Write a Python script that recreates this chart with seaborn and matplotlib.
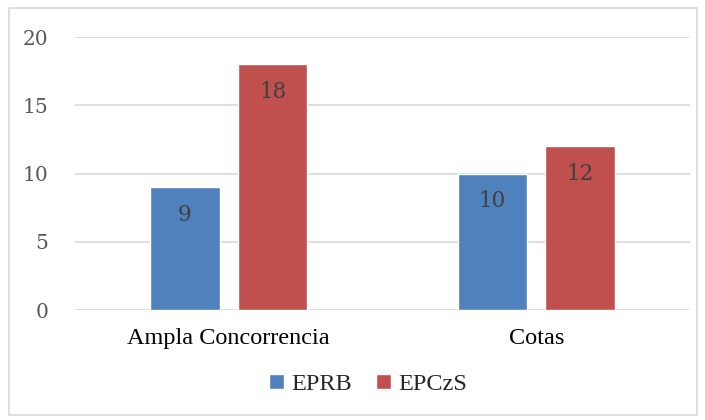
import pandas as pd
import matplotlib.pyplot as plt
import seaborn as sns
from matplotlib.patches import Rectangle

# --- data ---
categories = ["Ampla Concorrencia", "Cotas"]
series = ["EPRB", "EPCzS"]
eprb_values = [9, 10]
epczs_values = [18, 12]
y_ticks = [0, 5, 10, 15, 20]

COLORS = ["#4F81BD", "#C0504D"]

df = pd.DataFrame({
    "categoria": categories * 2,
    "serie": [series[0]] * len(categories) + [series[1]] * len(categories),
    "valor": eprb_values + epczs_values,
})

sns.set_theme(style="white")
plt.rcParams["font.family"] = ["Liberation Serif", "DejaVu Serif"]

fig = plt.figure(figsize=(7.05, 4.2), dpi=100)
ax = fig.add_axes([0.1064, 0.2619, 0.8723, 0.65])

sns.barplot(data=df, x="categoria", y="valor", hue="serie", palette=COLORS,
            width=0.57, gap=0.21, saturation=1, ax=ax, legend=True)

# value labels inside the bars, near the top
for container in ax.containers:
    for bar in container:
        h = bar.get_height()
        ax.annotate(f"{h:g}", (bar.get_x() + bar.get_width() / 2, h),
                    xytext=(0, -20), textcoords="offset points",
                    ha="center", va="center", fontsize=15.5, color="#404040",
                    family=["DejaVu Serif"])

ax.set_ylim(0, 20)
ax.set_yticks(y_ticks)
ax.set_xlim(-0.5, 1.5)
ax.yaxis.grid(True, color="#D9D9D9", linewidth=1.2)
ax.set_axisbelow(True)
for s in ax.spines.values():
    s.set_visible(False)
ax.tick_params(axis="y", length=0, pad=19, labelsize=14.5, labelcolor="#595959")
ax.tick_params(axis="x", length=0, pad=13, labelsize=17.5, labelcolor="#000000")
for lbl in ax.get_yticklabels():
    lbl.set_family(["DejaVu Serif"])
ax.set_xlabel("")
ax.set_ylabel("")

ax.legend_.remove()
handles, labels = ax.get_legend_handles_labels()
fig.legend(handles, labels, loc="center", bbox_to_anchor=(0.522, 0.085), ncol=2,
           frameon=False, fontsize=17.5, handlelength=0.6, handleheight=0.6,
           handletextpad=0.3, columnspacing=1.0)

fig.add_artist(Rectangle((0.013, 0.012), 0.976, 0.97, transform=fig.transFigure,
                         fill=False, edgecolor="#D9D9D9", linewidth=1.2))

fig.savefig("out.png", dpi=100)
